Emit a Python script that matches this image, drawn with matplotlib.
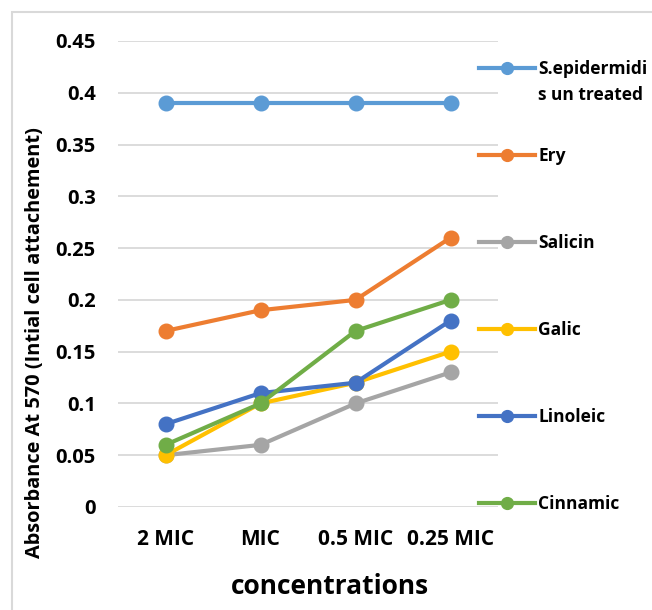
import matplotlib
matplotlib.use("Agg")
import matplotlib.pyplot as plt
from matplotlib.lines import Line2D
from matplotlib.patches import Rectangle

# =======================================================
# DATA
# =======================================================

CONCENTRATIONS = ["2 MIC", "MIC", "0.5 MIC", "0.25 MIC"]

SERIES_NAMES = ["S.epidermidi\ns un treated", "Ery", "Salicin", "Galic", "Linoleic", "Cinnamic"]

S_EPI = [0.39, 0.39, 0.39, 0.39]
ERY = [0.17, 0.19, 0.20, 0.26]
SALICIN = [0.05, 0.06, 0.10, 0.13]
GALIC = [0.05, 0.10, 0.12, 0.15]
LINOLEIC = [0.08, 0.11, 0.12, 0.18]
CINNAMIC = [0.06, 0.10, 0.17, 0.20]

Y_TICKS = [0, 0.05, 0.1, 0.15, 0.2, 0.25, 0.3, 0.35, 0.4, 0.45]

# =======================================================
# STYLE
# =======================================================

COLORS = ["#5B9BD5", "#ED7D31", "#A5A5A5", "#FFC000", "#4472C4", "#70AD47"]
FONT = "Open Sans"
W, H = 652, 610

plt.rcParams["font.family"] = [FONT, "DejaVu Sans"]
plt.rcParams["font.weight"] = "bold"


def px(x, y):
    # pixel coords (top-left origin) -> figure fraction
    return x / W, 1 - y / H


def main():
    fig = plt.figure(figsize=(W / 100, H / 100), dpi=100)
    fig.patch.set_facecolor("white")

    # chart border (only left/top visible in the crop)
    fig.patches.append(Rectangle(px(12, 640), (W + 40) / W, 628 / H,
                                 transform=fig.transFigure, fill=False,
                                 edgecolor="#d9d9d9", linewidth=1.5))

    left, top = px(118, 41)
    right, bottom = px(498, 507)
    ax = fig.add_axes([left, bottom, right - left, top - bottom])

    all_series = [S_EPI, ERY, SALICIN, GALIC, LINOLEIC, CINNAMIC]
    xs = list(range(len(CONCENTRATIONS)))

    # draw order as in excel: first series at back
    for vals, col in zip(all_series, COLORS):
        ax.plot(xs, vals, color=col, linewidth=3.0, marker="o",
                markersize=10.5, solid_capstyle="round", zorder=3)

    ax.set_xlim(-0.5, len(CONCENTRATIONS) - 0.5)
    ax.set_ylim(0, 0.45)
    ax.set_yticks(Y_TICKS)
    ax.set_yticklabels([f"{v:g}" for v in Y_TICKS], fontsize=14.5, fontweight="bold")
    ax.set_xticks(xs)
    ax.set_xticklabels(CONCENTRATIONS, fontsize=15, fontweight="bold")
    ax.tick_params(length=0, pad=16, axis="y")
    ax.tick_params(length=0, pad=16, axis="x")
    ax.grid(axis="y", color="#d9d9d9", linewidth=1.3, zorder=0)
    ax.set_axisbelow(True)
    for s in ax.spines.values():
        s.set_visible(False)

    fig.text(*px(330, 586), "concentrations", ha="center", va="center",
             fontsize=19, fontweight="bold")
    fig.text(*px(35, 343), "Absorbance At 570 (Intial cell attachement)",
             rotation=90, ha="center", va="center", fontsize=14.4, fontweight="bold")

    # legend, drawn by hand so the 2-line label lines up like excel
    # (marker sits on the first text line)
    for i, (name, col) in enumerate(zip(SERIES_NAMES, COLORS)):
        y = 68 + i * 87
        x0, yy = px(479, y)
        x1, _ = px(535, y)
        xm, _ = px(507, y)
        fig.add_artist(Line2D([x0, x1], [yy, yy], color=col, linewidth=3.0,
                              transform=fig.transFigure))
        fig.add_artist(Line2D([xm], [yy], color=col, marker="o", markersize=8.5,
                              transform=fig.transFigure))
        extra = name.count("\n") * 26
        tx, ty = px(538, y + 6 + extra)
        fig.text(tx, ty, name, ha="left", va="baseline",
                 fontsize=12.5, fontweight="bold", linespacing=1.57)

    fig.savefig("out.png", dpi=100)
    plt.close(fig)


if __name__ == "__main__":
    main()
